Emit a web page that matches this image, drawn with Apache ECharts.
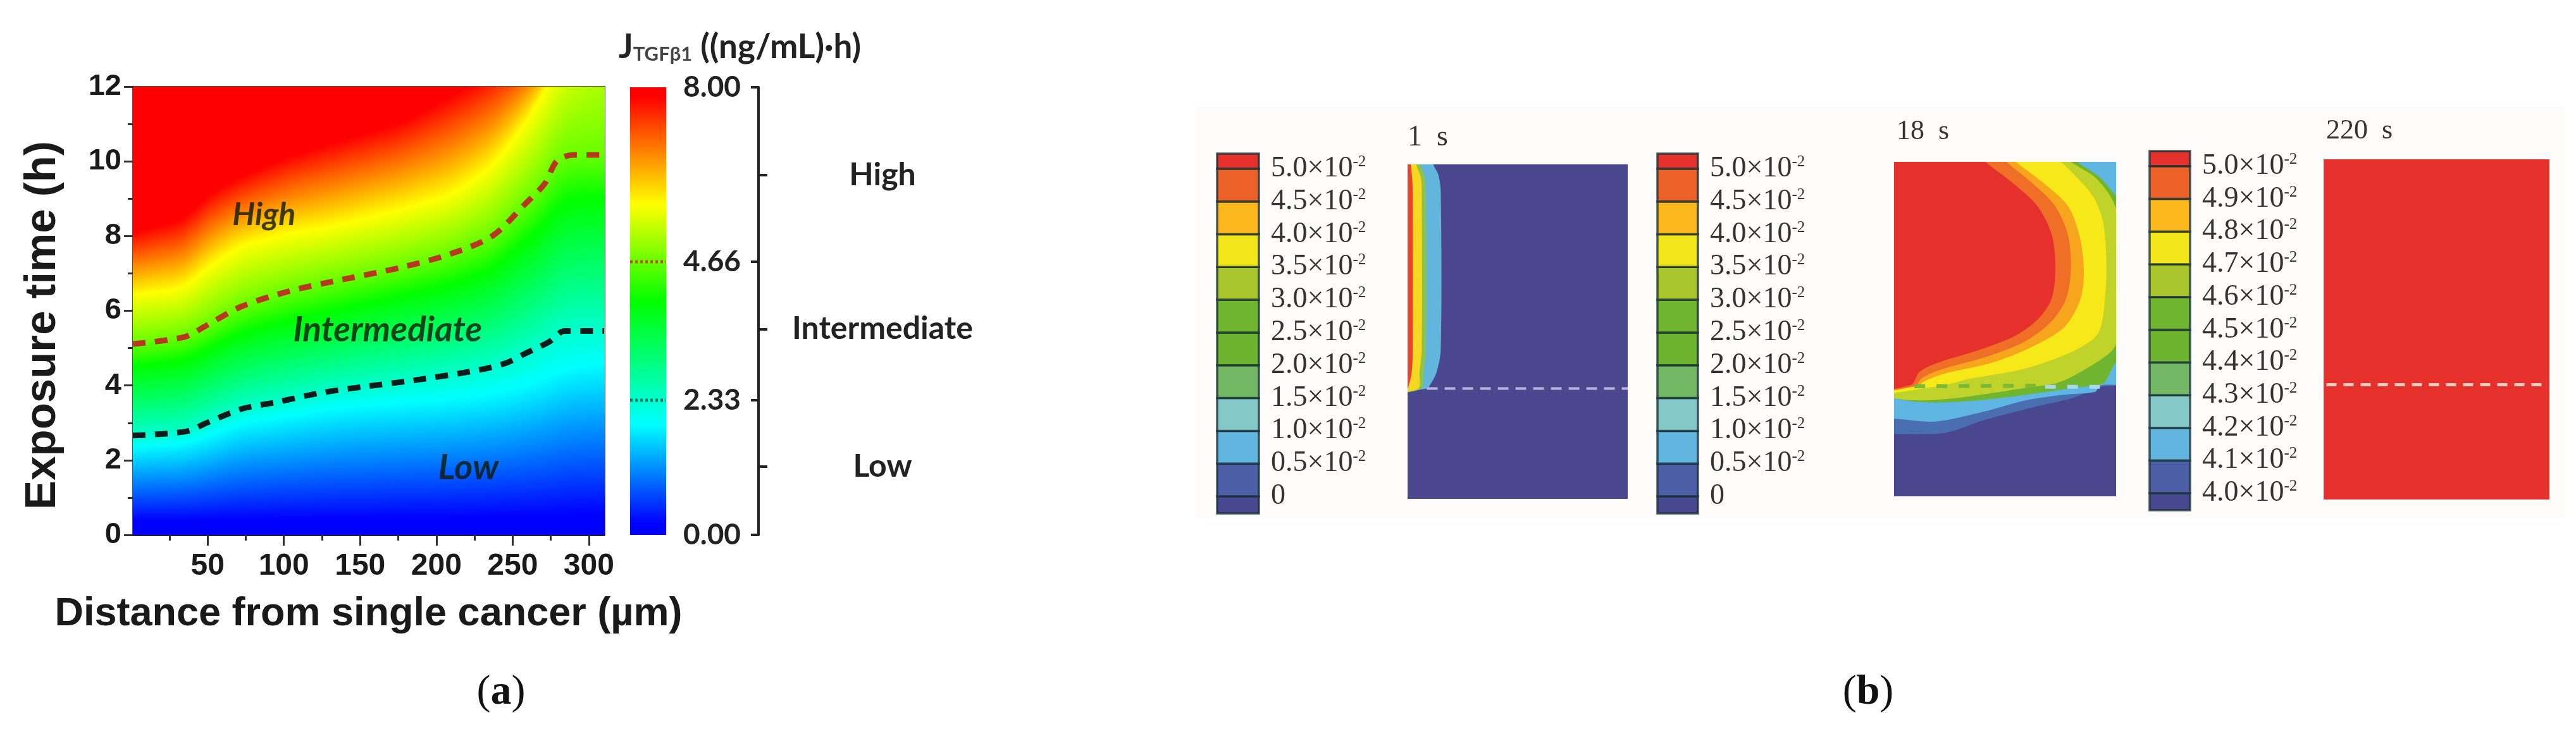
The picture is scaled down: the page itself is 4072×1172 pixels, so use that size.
<!DOCTYPE html>
<html><head><meta charset="utf-8">
<style>html,body{margin:0;padding:0;background:#fff}#c{width:4072px;height:1172px}</style>
<script src="https://cdn.jsdelivr.net/npm/echarts@6/dist/echarts.min.js"></script>
</head><body><div id="c"></div>
<script>
// ---------- Panel (a) ----------
const distanceNodes = [1, 35, 50, 72, 104, 133, 178, 210, 237, 258, 271, 279, 290, 310];
// exposure time (h) at which each colour-scale position is reached, per distance node
const contourLevels = [0, 0.025, 0.247, 0.301, 0.521, 0.610, 0.739, 0.979, 1];
const contourTimes = [
  [0,0,0,0,0,0,0,0,0,0,0,0,0,0],
  [0.38,0.38,0.4,0.4,0.42,0.42,0.45,0.45,0.48,0.5,0.5,0.52,0.55,0.55],
  [2.35,2.45,2.65,3.0,3.2,3.4,3.55,3.65,3.8,4.0,4.2,4.35,4.5,4.6],
  [2.66,2.76,3.01,3.37,3.62,3.85,4.1,4.28,4.5,4.85,5.1,5.35,5.47,5.47],
  [4.5,4.65,4.95,5.4,5.75,6.0,6.4,6.7,7.1,7.85,8.3,8.8,9.0,9.0],
  [5.11,5.3,5.6,6.11,6.53,6.79,7.17,7.53,8.01,8.85,9.4,10.01,10.17,10.17],
  [6.43,6.6,7.17,7.75,8.07,8.27,8.72,9.1,9.88,11.0,11.85,12.6,13.3,14.5],
  [8.08,8.46,9.1,9.6,10.14,10.5,11.05,11.75,12.4,13.0,13.4,13.9,14.6,16],
  [30,30,30,30,30,30,30,30,30,30,30,30,30,30]
];
const lowerBoundary = [[1,2.66],[36,2.77],[50,3.01],[73,3.38],[95,3.55],[124,3.8],[155,3.98],[184,4.13],[226,4.4],[245,4.59],[258,4.85],[274,5.17],[284,5.46],[310,5.46]];
const upperBoundary = [[1,5.11],[35,5.3],[49,5.6],[72,6.11],[104,6.53],[133,6.79],[178,7.17],[210,7.53],[237,8.01],[258,8.85],[271,9.4],[279,10.01],[290,10.17],[310,10.17]];
const scaleStops = [[0,[0,0,255]],[0.025,[0,0,255]],[0.247,[0,255,255]],[0.521,[0,255,0]],[0.739,[255,255,0]],[0.979,[255,0,0]],[1,[255,0,0]]];
const scaleTickPos = [0, 0.301, 0.610, 1];
const scaleTickText = ['0.00', '2.33', '4.66', '8.00'];
const zonePos = [0.153, 0.460, 0.804];
const zoneText = ['Low', 'Intermediate', 'High'];
const plotNotes = [
  {name:'High',value:[87,8.56],label:{fontSize:50}},
  {name:'Intermediate',value:[168,5.48],label:{fontSize:55}},
  {name:'Low',value:[221,1.8],label:{fontSize:56}}
];
const xMajor = [50,100,150,200,250,300];
const xMinor = [25,75,125,175,225,275];

// ---------- Panel (b) ----------
const legendColors = ['#47488f','#4d5da6','#62b5df','#84c8c8','#74b866','#6db32d','#6fb52f','#a9c52b','#f2e61a','#fcb71d','#ec6127','#e5302c'];
const legendStepsA = ['0','0.5','1.0','1.5','2.0','2.5','3.0','3.5','4.0','4.5','5.0'];
const legendStepsB = ['4.0','4.1','4.2','4.3','4.4','4.5','4.6','4.7','4.8','4.9','5.0'];
const frame1Sky = [[700,150],[805,150],[815,225],[830,260],[838,320],[838,880],[825,960],[805,1005],[795,1018],[700,1018]];
const frame1Green = [[700,150],[770,150],[775,225],[788,270],[792,320],[792,880],[785,960],[778,1018],[700,1018]];
const frame1Yellow = [[700,150],[758,150],[762,225],[776,270],[779,320],[779,880],[772,960],[768,1018],[700,1018]];
const frame1Red = [[700,150],[742,150],[745,225],[749,270],[751,320],[751,880],[748,960],[738,1010],[735,1018],[700,1018]];
const frame1Line = [[795,1018],[1418,1018]];
const frame2Mid = [[700,1180],[772,1180],[930,1175],[1050,1130],[1200,1085],[1330,1050],[1400,1015],[1460,1008],[1540,1008],[1540,150],[700,150]];
const frame2Sky = [[700,1125],[772,1125],[900,1135],[1050,1100],[1180,1060],[1300,1040],[1395,1030],[1410,1008],[1460,1005],[1540,1005],[1540,150],[700,150]];
const frame2Green = [[700,1008],[1410,1005],[1460,925],[1540,860],[1540,420],[1460,335],[1410,270],[1340,215],[1280,150],[700,150]];
const frame2Lime = [[700,1008],[1250,1005],[1400,925],[1460,860],[1490,620],[1460,380],[1400,275],[1320,215],[1260,150],[700,150]];
const frame2Yellow = [[700,1008],[900,1012],[1000,985],[1170,950],[1320,890],[1400,830],[1420,760],[1430,590],[1420,430],[1390,340],[1330,260],[1290,215],[1230,150],[700,150]];
const frame2Amber = [[700,1008],[840,1010],[870,990],[930,965],[1080,925],[1200,870],[1300,800],[1350,700],[1360,590],[1345,470],[1310,370],[1235,290],[1150,215],[1090,150],[700,150]];
const frame2Orange = [[700,1008],[835,1010],[860,980],[920,950],[1060,905],[1180,850],[1260,780],[1305,700],[1320,590],[1310,470],[1270,370],[1200,290],[1120,215],[1060,150],[700,150]];
const frame2Red = [[700,1005],[825,1005],[850,960],[900,930],[1040,880],[1150,830],[1220,770],[1260,700],[1272,590],[1260,470],[1215,370],[1140,290],[1055,215],[1000,150],[700,150]];
const frame2LineA = [[835,1010],[1240,1008]];
const frame2LineB = [[1240,1012],[1410,1012]];
const frame3Full = [[725,208],[1525,208],[1525,1415],[725,1415]];
const frame3Line = [[735,1008],[1505,1008]];

// ---------- helpers ----------
function scaleColor(u){
  for(let i=1;i<scaleStops.length;i++){
    if(u<=scaleStops[i][0]){
      const a=scaleStops[i-1],b=scaleStops[i],f=b[0]===a[0]?0:(u-a[0])/(b[0]-a[0]);
      const c=a[1].map((v,k)=>Math.round(v+(b[1][k]-v)*f));
      return 'rgb('+c.join(',')+')';
    }
  }
  return 'rgb(255,0,0)';
}
function rawTimesAt(x){
  x=Math.max(1,Math.min(310,x));
  let i=0; while(i<distanceNodes.length-2 && x>distanceNodes[i+1]) i++;
  const f=(x-distanceNodes[i])/(distanceNodes[i+1]-distanceNodes[i]);
  return contourTimes.map(r=>r[i]+(r[i+1]-r[i])*f);
}
// shading only: soften the corners between the read-off nodes
function timesAt(x){
  const a=rawTimesAt(x-7),b=rawTimesAt(x),c=rawTimesAt(x+7);
  return b.map((v,k)=>(a[k]+2*v+c[k])/4);
}
const columns=[]; for(let x=1;x<310;x++) columns.push([x,x+1]);
function columnGradient(x){
  const ts=timesAt(x), stops=[]; const top=12;
  let topU=1;
  for(let k=1;k<ts.length;k++){ if(ts[k]>=top){ topU=contourLevels[k-1]+(contourLevels[k]-contourLevels[k-1])*(top-ts[k-1])/(ts[k]-ts[k-1]); break; } }
  stops.push({offset:0,color:scaleColor(topU)});
  for(let k=ts.length-1;k>=0;k--){ if(ts[k]<top) stops.push({offset:1-ts[k]/top,color:scaleColor(contourLevels[k])}); }
  return new echarts.graphic.LinearGradient(0,0,0,1,stops);
}
function polySeries(gridIdx, pts, color, smooth){
  return {type:'custom',coordinateSystem:'cartesian2d',xAxisIndex:gridIdx,yAxisIndex:gridIdx,silent:true,data:[0],encode:{x:[],y:[]},clip:true,
    renderItem:(p,api)=>({type:'polygon',shape:{points:pts.map(q=>api.coord(q)),smooth:smooth||0},style:{fill:color}})};
}
function dashSeries(gridIdx, pts, color, w, dash){
  return {type:'line',xAxisIndex:gridIdx,yAxisIndex:gridIdx,data:pts,symbol:'none',silent:true,z:5,lineStyle:{color:color,width:w,type:dash}};
}
const serif='"Liberation Serif"', sans='"Liberation Sans"', soft='Lato';

// ---------- grids & axes ----------
const grids=[
  {left:210,top:137,width:745,height:709},    // 0 heat map
  {left:996,top:138,width:203,height:708},    // 1 colour scale + bracket
  {left:2225,top:260,width:348,height:529},   // 2 frame 1 s
  {left:2994,top:256,width:351,height:529},   // 3 frame 18 s
  {left:3673,top:252,width:357,height:538},   // 4 frame 220 s
  {left:1924,top:243,width:66,height:569},    // 5 legend
  {left:2620,top:243,width:64,height:569},    // 6 legend
  {left:3398,top:239,width:64,height:568}     // 7 legend
];
const hidden=(g,min,max,inv)=>({gridIndex:g,type:'value',min,max,inverse:!!inv,show:false});
const legendY=(g,steps)=>({gridIndex:g,type:'value',min:-0.52,max:10.46,position:'right',
  axisLine:{show:false,onZero:false},axisTick:{show:false},splitLine:{show:false},
  axisLabel:{customValues:[0,1,2,3,4,5,6,7,8,9,10],margin:19,color:'#333',
    formatter:v=>{const s=steps[Math.round(v)];return s==='0'?'{a|0}':'{a|'+s+'×10}{b|-2}';},
    rich:{a:{fontFamily:serif,fontSize:46,color:'#333'},b:{fontFamily:serif,fontSize:25,color:'#333',verticalAlign:'top',padding:[0,0,14,0]}}}});
const legendSeries=g=>({type:'custom',coordinateSystem:'cartesian2d',xAxisIndex:g,yAxisIndex:g,silent:true,
  data:legendColors.map((c,i)=>[i===0?-0.52:i-1,i===11?10.46:i]),encode:{x:[],y:[0,1]},
  renderItem:(p,api)=>{const a=api.coord([0,api.value(1)]),b=api.coord([1,api.value(0)]);
    return {type:'rect',shape:{x:a[0],y:a[1],width:b[0]-a[0],height:b[1]-a[1]},style:{fill:legendColors[p.dataIndex],stroke:'rgba(25,50,55,0.8)',lineWidth:3.5}};}});

const xAxes=[
  {gridIndex:0,type:'value',min:1,max:310,position:'bottom',name:'Distance from single cancer (µm)',nameLocation:'middle',nameGap:94,
    nameTextStyle:{fontFamily:sans,fontWeight:'bold',fontSize:63,color:'#1a1a1a'},
    axisLine:{show:true,onZero:false,lineStyle:{color:'#222',width:3}},
    axisTick:{show:true,customValues:xMajor,length:17,lineStyle:{color:'#333',width:3}},
    axisLabel:{customValues:xMajor,margin:26,fontFamily:sans,fontWeight:'bold',fontSize:48,color:'#1a1a1a'},splitLine:{show:false}},
  hidden(1,0,1),hidden(2,735,1418),hidden(3,772,1460),hidden(4,725,1525),hidden(5,0,1),hidden(6,0,1),hidden(7,0,1),
  {gridIndex:0,type:'value',min:1,max:310,position:'bottom',axisLine:{show:false,onZero:false},axisLabel:{show:false},splitLine:{show:false},
    axisTick:{show:true,customValues:xMinor,length:9,lineStyle:{color:'#333',width:3}}},
  {gridIndex:0,type:'value',min:1,max:310,position:'top',axisLine:{show:true,onZero:false,lineStyle:{color:'rgba(50,50,40,0.85)',width:3}},axisLabel:{show:false},axisTick:{show:false},splitLine:{show:false}}
];
const yAxes=[
  {gridIndex:0,type:'value',min:0,max:12,interval:2,name:'Exposure time (h)',nameLocation:'middle',nameGap:108,
    nameTextStyle:{fontFamily:sans,fontWeight:'bold',fontSize:69,color:'#1a1a1a',padding:[0,46,0,0]},
    axisLine:{show:true,onZero:false,lineStyle:{color:'rgba(40,50,50,0.85)',width:3}},
    axisTick:{show:true,length:14,lineStyle:{color:'#333',width:3}},
    minorTick:{show:true,splitNumber:2,length:8,lineStyle:{color:'#333',width:3}},
    axisLabel:{margin:18,fontFamily:sans,fontWeight:'bold',fontSize:47,color:'#1a1a1a'},splitLine:{show:false}},
  {gridIndex:1,type:'value',min:0,max:1,position:'right',
    axisLine:{show:true,onZero:false,lineStyle:{color:'#222',width:4}},
    axisTick:{show:true,inside:true,customValues:scaleTickPos,length:12,lineStyle:{color:'#222',width:4}},
    axisLabel:{inside:true,customValues:scaleTickPos,margin:28,formatter:v=>scaleTickText[scaleTickPos.indexOf(v)],fontFamily:soft,fontWeight:'bold',fontSize:46,color:'#222'},splitLine:{show:false}},
  hidden(2,225,1408,true),hidden(3,215,1400,true),hidden(4,208,1415,true),
  legendY(5,legendStepsA),legendY(6,legendStepsA),legendY(7,legendStepsB),
  {gridIndex:1,type:'value',min:0,max:1,position:'right',axisLine:{show:false,onZero:false},splitLine:{show:false},
    axisTick:{show:true,customValues:zonePos,length:14,lineStyle:{color:'#222',width:4}},
    axisLabel:{customValues:zonePos,margin:196,align:'center',formatter:v=>zoneText[zonePos.indexOf(v)],fontFamily:soft,fontWeight:'bold',fontSize:50,color:'#222'}},
  {gridIndex:0,type:'value',min:0,max:12,position:'right',axisLine:{show:true,onZero:false,lineStyle:{color:'rgba(40,60,40,0.8)',width:3}},axisTick:{show:false},axisLabel:{show:false},splitLine:{show:false}}
];

const S=0.3;
const series=[
  {type:'custom',coordinateSystem:'cartesian2d',xAxisIndex:0,yAxisIndex:0,silent:true,data:columns,encode:{x:[0,1],y:[]},
    renderItem:(p,api)=>{const x0=api.value(0),x1=api.value(1),a=api.coord([x0,12]),b=api.coord([x1,0]);
      return {type:'rect',shape:{x:a[0],y:a[1],width:b[0]-a[0]+1,height:b[1]-a[1]},style:{fill:columnGradient((x0+x1)/2)}};}},
  {type:'line',xAxisIndex:0,yAxisIndex:0,data:upperBoundary,smooth:0.3,symbol:'none',silent:true,z:5,lineStyle:{color:'#b5391c',width:9,type:[20,15]}},
  {type:'line',xAxisIndex:0,yAxisIndex:0,data:lowerBoundary,smooth:0.3,symbol:'none',silent:true,z:5,lineStyle:{color:'#0b1c1c',width:9,type:[20,15]}},
  {type:'scatter',xAxisIndex:0,yAxisIndex:0,data:plotNotes,symbolSize:1,itemStyle:{color:'transparent'},silent:true,z:6,
    label:{show:true,position:'inside',formatter:'{b}',fontFamily:soft,fontStyle:'italic',fontWeight:'bold',fontSize:50,color:'#0d1a0d'}},
  // colour scale
  {type:'custom',coordinateSystem:'cartesian2d',xAxisIndex:1,yAxisIndex:1,silent:true,data:[[0,0.281]],encode:{x:[0,1],y:[]},
    renderItem:(p,api)=>{const a=api.coord([api.value(0),1]),b=api.coord([api.value(1),0]);
      const stops=scaleStops.slice().reverse().map(s=>({offset:1-s[0],color:scaleColor(s[0])}));
      return {type:'rect',shape:{x:a[0],y:a[1],width:b[0]-a[0],height:b[1]-a[1]},style:{fill:new echarts.graphic.LinearGradient(0,0,0,1,stops)}};}},
  dashSeries(1,[[0,0.610],[0.281,0.610]],'#b5591c',5,[4,4]),
  dashSeries(1,[[0,0.301],[0.281,0.301]],'#157a60',5,[4,4]),
  // frame 1 s
  polySeries(2,[[735,225],[1418,225],[1418,1408],[735,1408]],'#4a478e'),
  polySeries(2,frame1Sky,'#62b5dc',S),polySeries(2,frame1Green,'#8ec44c',S),polySeries(2,frame1Yellow,'#f5d81f',S),polySeries(2,frame1Red,'#e9442a',S),
  dashSeries(2,frame1Line,'#bcb6e4',4,[17,11]),
  // frame 18 s
  polySeries(3,[[772,215],[1460,215],[1460,1400],[772,1400]],'#4a478e'),
  polySeries(3,frame2Mid,'#4a6fb0',S),polySeries(3,frame2Sky,'#5fb6e3',S),polySeries(3,frame2Green,'#6fb52f',S),polySeries(3,frame2Lime,'#c0d32a',S),
  polySeries(3,frame2Yellow,'#f7e81a',S),polySeries(3,frame2Amber,'#f8a51e',S),polySeries(3,frame2Orange,'#ee6f25',S),polySeries(3,frame2Red,'#e5302c',S),
  dashSeries(3,frame2LineA,'#7cb833',6,[17,18]),
  dashSeries(3,frame2LineB,'#a9d8ea',6,[17,18]),
  // frame 220 s
  polySeries(4,frame3Full,'#e5302c'),
  dashSeries(4,frame3Line,'#f6cdbc',5,[16,11]),
  legendSeries(5),legendSeries(6),legendSeries(7)
];

const chart=echarts.init(document.getElementById('c'),null,{renderer:'canvas'});
chart.setOption({
  animation:false,backgroundColor:'#fff',tooltip:{show:false},
  grid:grids,xAxis:xAxes,yAxis:yAxes,series,
  graphic:[
    {type:'rect',z:-10,silent:true,shape:{x:1891,y:169,width:2162,height:651},style:{fill:'#fefcfa'}},
    {type:'text',x:978,y:75,silent:true,style:{text:'{j|J}{s|TGFβ1}{u| ((ng/mL)·h)}',verticalAlign:'middle',
      rich:{j:{fontFamily:soft,fontWeight:'bold',fontSize:53,fill:'#222'},s:{fontFamily:soft,fontWeight:'bold',fontSize:31,fill:'#444',verticalAlign:'bottom'},u:{fontFamily:soft,fontWeight:'bold',fontSize:53,fill:'#222'}}}},
    {type:'text',x:2225,y:218,silent:true,style:{text:'1  s',fontFamily:serif,fontSize:46,fill:'#333',verticalAlign:'middle'}},
    {type:'text',x:2998,y:208,silent:true,style:{text:'18  s',fontFamily:serif,fontSize:44,fill:'#333',verticalAlign:'middle'}},
    {type:'text',x:3677,y:207,silent:true,style:{text:'220  s',fontFamily:serif,fontSize:44,fill:'#333',verticalAlign:'middle'}},
    {type:'text',x:792,y:1096,silent:true,style:{text:'({b|a})',fontFamily:serif,fontSize:66,fill:'#111',align:'center',verticalAlign:'middle',rich:{b:{fontFamily:serif,fontSize:66,fontWeight:'bold',fill:'#111'}}}},
    {type:'text',x:2953,y:1096,silent:true,style:{text:'({b|b})',fontFamily:serif,fontSize:66,fill:'#111',align:'center',verticalAlign:'middle',rich:{b:{fontFamily:serif,fontSize:66,fontWeight:'bold',fill:'#111'}}}}
  ]
});
</script></body></html>
